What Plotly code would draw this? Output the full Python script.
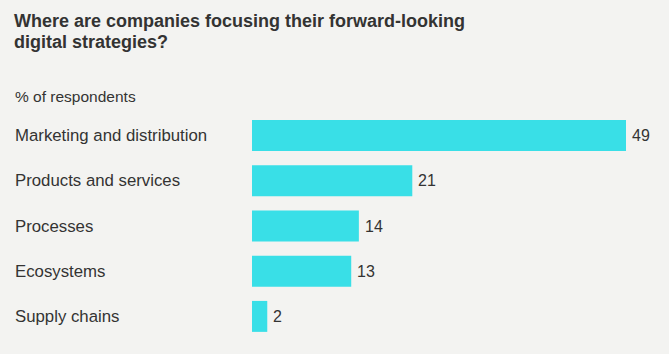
import plotly.graph_objects as go

categories = ["Marketing and distribution", "Products and services", "Processes", "Ecosystems", "Supply chains"]
values = [49, 21, 14, 13, 2]
title_lines = ["Where are companies focusing their forward-looking", "digital strategies?"]
subtitle = "% of respondents"

W, H = 669, 354
ML, MR, MT, MB = 252, 10, 113, 15
plot_w = W - ML - MR
plot_h = H - MT - MB
BG = "#f3f3f1"
TXT = "#333333"
FONT = "Liberation Sans, Arial, Helvetica, sans-serif"

def px_x(x):
    return (x - ML) / plot_w

def px_y(y):
    return (H - MB - y) / plot_h

fig = go.Figure()
fig.add_trace(go.Bar(
    y=categories, x=values, orientation="h",
    marker=dict(color="#39dfe7", line=dict(width=0)),
    hoverinfo="skip",
))

annotations = []
for c, v in zip(categories, values):
    annotations.append(dict(x=v, y=c, xref="x", yref="y", text=str(v), showarrow=False,
                            xanchor="left", yanchor="middle", xshift=4,
                            font=dict(family=FONT, size=16, color=TXT)))
    annotations.append(dict(x=px_x(13), y=c, xref="paper", yref="y", text=c, showarrow=False,
                            xanchor="left", yanchor="middle",
                            font=dict(family=FONT, size=16.8, color=TXT)))

annotations.append(dict(x=px_x(12), y=px_y(20.5), xref="paper", yref="paper", text="<b>" + title_lines[0] + "</b>",
                        showarrow=False, xanchor="left", yanchor="middle",
                        font=dict(family=FONT, size=18, color=TXT)))
annotations.append(dict(x=px_x(12), y=px_y(41.5), xref="paper", yref="paper", text="<b>" + title_lines[1] + "</b>",
                        showarrow=False, xanchor="left", yanchor="middle",
                        font=dict(family=FONT, size=18, color=TXT)))
annotations.append(dict(x=px_x(13), y=px_y(96), xref="paper", yref="paper", text=subtitle,
                        showarrow=False, xanchor="left", yanchor="middle",
                        font=dict(family=FONT, size=15.5, color=TXT)))

fig.update_layout(
    width=W, height=H,
    margin=dict(l=ML, r=MR, t=MT, b=MB),
    paper_bgcolor=BG, plot_bgcolor=BG,
    showlegend=False,
    bargap=0.315,
    annotations=annotations,
    xaxis=dict(range=[0, 49 * plot_w / 374], visible=False, fixedrange=True),
    yaxis=dict(categoryorder="array", categoryarray=categories, autorange="reversed",
               showticklabels=False, showgrid=False, zeroline=False, fixedrange=True),
)

fig.write_html("out.html", config=dict(displayModeBar=False))
